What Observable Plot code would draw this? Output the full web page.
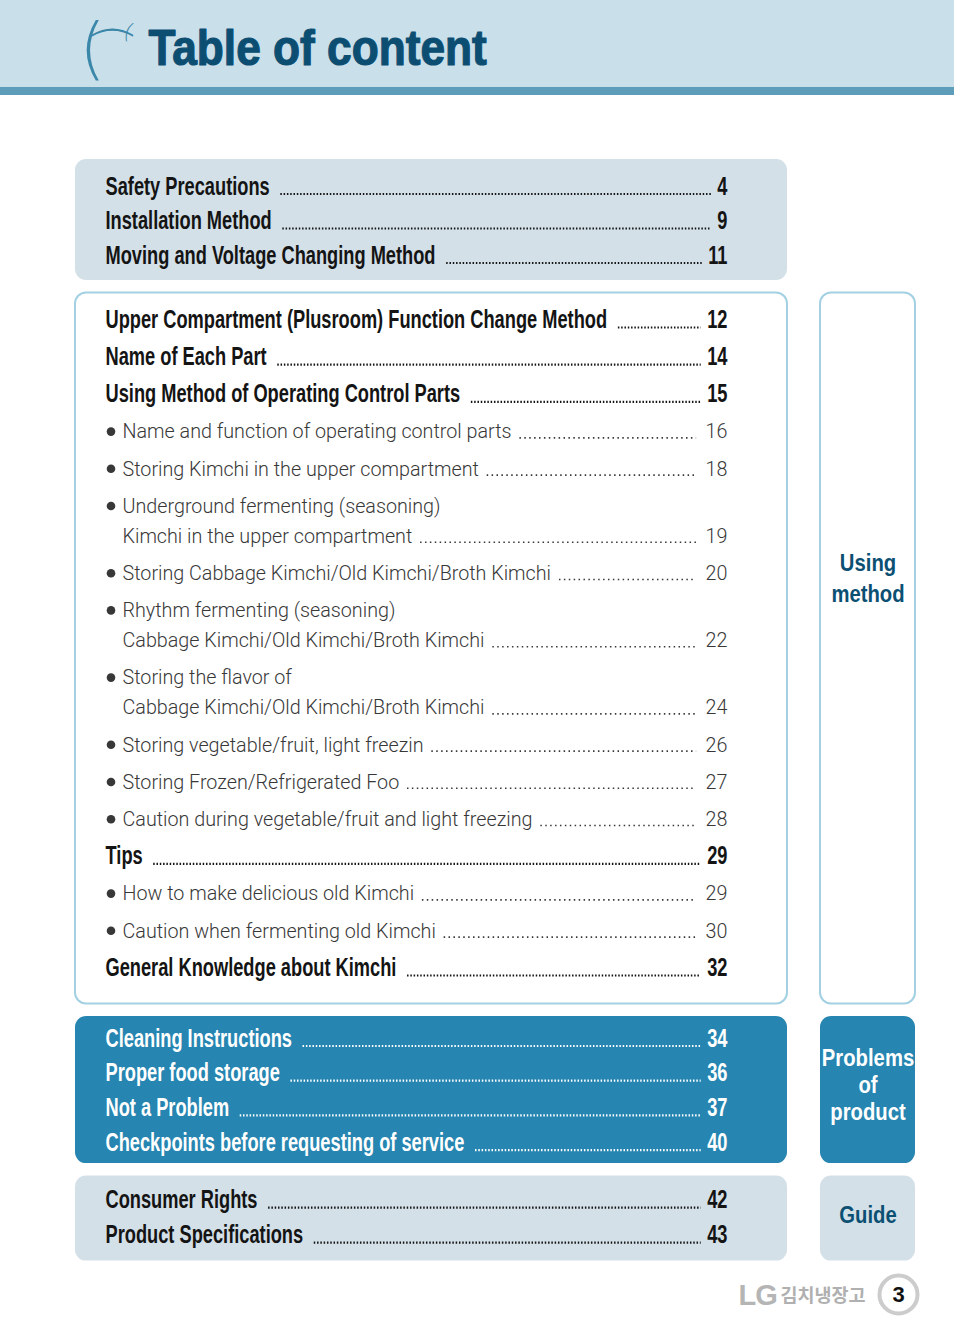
<!DOCTYPE html>
<html>
<head>
<meta charset="utf-8">
<script src="https://cdn.jsdelivr.net/npm/d3@7"></script>
<script src="https://cdn.jsdelivr.net/npm/@observablehq/plot@0.6"></script>
<style>
  html, body { margin: 0; padding: 0; background: #ffffff; }
  g[aria-description="brand"] text { letter-spacing: -1px; }
</style>
</head>
<body>
<div id="chart"></div>
<script>
// ---------------- DATA ----------------
const pageTitle = "Table of content";
const sectionNames = ["Basics", "Using method", "Problems of product", "Guide"];
const sideLabels = [null, ["Using", "method"], ["Problems", "of", "product"], ["Guide"]];

const entryTitles = [
  "Safety Precautions",
  "Installation Method",
  "Moving and Voltage Changing Method",
  "Upper Compartment (Plusroom) Function Change Method",
  "Name of Each Part",
  "Using Method of Operating Control Parts",
  "Name and function of operating control parts",
  "Storing Kimchi in the upper compartment",
  "Underground fermenting (seasoning)\nKimchi in the upper compartment",
  "Storing Cabbage Kimchi/Old Kimchi/Broth Kimchi",
  "Rhythm fermenting (seasoning)\nCabbage Kimchi/Old Kimchi/Broth Kimchi",
  "Storing the flavor of\nCabbage Kimchi/Old Kimchi/Broth Kimchi",
  "Storing vegetable/fruit, light freezin",
  "Storing Frozen/Refrigerated Foo",
  "Caution during vegetable/fruit and light freezing",
  "Tips",
  "How to make delicious old Kimchi",
  "Caution when fermenting old Kimchi",
  "General Knowledge about Kimchi",
  "Cleaning Instructions",
  "Proper food storage",
  "Not a Problem",
  "Checkpoints before requesting of service",
  "Consumer Rights",
  "Product Specifications"
];
const entryPages = [4, 9, 11, 12, 14, 15, 16, 18, 19, 20, 22, 24, 26, 27, 28, 29, 29, 30, 32, 34, 36, 37, 40, 42, 43];
const entryLevels = ["main", "main", "main", "main", "main", "main",
  "sub", "sub", "sub", "sub", "sub", "sub", "sub", "sub", "sub",
  "main", "sub", "sub", "main",
  "main", "main", "main", "main", "main", "main"];
const entrySections = [0, 0, 0, 1, 1, 1, 1, 1, 1, 1, 1, 1, 1, 1, 1, 1, 1, 1, 1, 2, 2, 2, 2, 3, 3];

const brandName = "LG";
const productName = "김치냉장고";
const pageNumber = "3";

// ---------------- LAYOUT & STYLE ----------------
const W = 954, H = 1336;
const L = {
  headerH: 87, stripH: 8,
  boxX1: 75, boxX2: 787, sideX1: 820, sideX2: 915,
  textX: 105, subTextX: 122, bulletX: 110.5, pageX: 727,
  firstTop: 159, gap: 12.5,
  sec: [
    {padTop: 27, pitch: 34.5, wrap: 31, padBottom: 25, labelDy: 0, labelPitch: 0},
    {padTop: 27, pitch: 37.2, wrap: 30, padBottom: 36, labelDy: -70, labelPitch: 31},
    {padTop: 22, pitch: 34.7, wrap: 31, padBottom: 21, labelDy: -5, labelPitch: 27},
    {padTop: 24, pitch: 35, wrap: 31, padBottom: 26, labelDy: -3, labelPitch: 27}
  ]
};
const S = [
  {fill: "#d3e0e8", stroke: "none", ink: "#141414", subInk: "#383838", sideFill: null, sideStroke: "none", sideInk: "#0b5073"},
  {fill: "#ffffff", stroke: "#a3d1e3", ink: "#141414", subInk: "#383838", sideFill: "#ffffff", sideStroke: "#a3d1e3", sideInk: "#0b5073"},
  {fill: "#2685b1", stroke: "none", ink: "#ffffff", subInk: "#ffffff", sideFill: "#2685b1", sideStroke: "none", sideInk: "#ffffff"},
  {fill: "#d3e0e8", stroke: "none", ink: "#141414", subInk: "#383838", sideFill: "#d3e0e8", sideStroke: "none", sideInk: "#0b5073"}
];
// "condense" = horizontal squeeze applied to the glyphs (narrow type look); "squash" = vertical
const F = {
  main: {family: "'Liberation Sans', Arial, sans-serif", weight: "bold", size: 25, condense: 0.73, squash: 1},
  sub: {family: "Roboto, 'Liberation Sans', sans-serif", weight: "300", size: 21, condense: 0.94, squash: 1},
  title: {family: "'Liberation Sans', Arial, sans-serif", weight: "bold", size: 50, condense: 0.885, squash: 1},
  side: {family: "'Liberation Sans', Arial, sans-serif", weight: "bold", size: 26.5, condense: 0.765, squash: 0.9}
};

const ctx = document.createElement("canvas").getContext("2d");
function measure(text, f) {
  ctx.font = `${f.weight} ${f.size}px ${f.family}`;
  return ctx.measureText(text).width * f.condense;
}

// ---------------- BUILD ROWS ----------------
let cursor = L.firstTop;
const boxes = [], sideBoxes = [], lines = [], sideText = [];
sectionNames.forEach((name, s) => {
  const cfg = L.sec[s], st = S[s];
  const top = cursor;
  let y = top + cfg.padTop, last = y;
  entryTitles.forEach((t, i) => {
    if (entrySections[i] !== s) return;
    const parts = t.split("\n");
    parts.forEach((p, j) => {
      if (j > 0) y += cfg.wrap;
      const level = entryLevels[i];
      const f = F[level];
      const x = level === "sub" ? L.subTextX : L.textX;
      const isLast = j === parts.length - 1;
      const row = {section: s, level, text: p, x, y, bullet: level === "sub" && j === 0,
        page: isLast ? String(entryPages[i]) : null,
        color: level === "sub" ? st.subInk : st.ink};
      if (isLast) {
        const tw = measure(p, f);
        const pw = measure(row.page, f);
        row.lx1 = x + tw + (level === "sub" ? 8 : 11);
        row.lx2 = L.pageX - pw - (level === "sub" ? 9 : 6);
        row.ly = y + f.size * 0.3;
      }
      lines.push(row);
    });
    last = y;
    y += cfg.pitch;
  });
  const bottom = last + cfg.padBottom;
  boxes.push({x1: L.boxX1, x2: L.boxX2, y1: top, y2: bottom, fill: st.fill, stroke: st.stroke});
  if (sideLabels[s]) {
    sideBoxes.push({x1: L.sideX1, x2: L.sideX2, y1: top, y2: bottom, fill: st.sideFill, stroke: st.sideStroke});
    const n = sideLabels[s].length;
    const cy = (top + bottom) / 2 + cfg.labelDy;
    sideLabels[s].forEach((t, k) => sideText.push({
      x: (L.sideX1 + L.sideX2) / 2, y: cy + (k - (n - 1) / 2) * cfg.labelPitch, text: t, color: st.sideInk}));
  }
  cursor = bottom + L.gap;
});

const mainRows = lines.filter(d => d.level === "main");
const subRows = lines.filter(d => d.level === "sub");
const leaderRows = lines.filter(d => d.page !== null);

// ---------------- PLOT ----------------
const chart = Plot.plot({
  width: W, height: H,
  margin: 0,
  x: {domain: [0, W], range: [0, W], axis: null},
  y: {domain: [0, H], range: [0, H], axis: null},
  color: {type: "identity"},
  style: {background: "#ffffff"},
  marks: [
    // header band
    Plot.rect([{y1: 0, y2: L.headerH}], {x1: 0, x2: W, y1: "y1", y2: "y2", fill: "#c9dfe9"}),
    Plot.rect([{y1: L.headerH, y2: L.stripH + L.headerH}], {x1: 0, x2: W, y1: "y1", y2: "y2", fill: "#5e9db9"}),
    // logo swoosh
    Plot.text(["("], {x: 92, y: 50, text: d => d, fontSize: 68, fontWeight: 300, fontFamily: "DejaVu Sans", fill: "#3a87aa"}),
    Plot.text(["("], {x: 112, y: 32, text: d => d, rotate: 90, fontSize: 46, fontWeight: 300, fontFamily: "DejaVu Sans", fill: "#3a87aa"}),
    Plot.text(["("], {x: 128, y: 31, text: d => d, rotate: 20, fontSize: 22, fontWeight: 300, fontFamily: "DejaVu Sans", fill: "#3a87aa"}),
    Plot.text([pageTitle], {x: 148, y: 48, text: d => d, textAnchor: "start", lineAnchor: "middle",
      fontSize: F.title.size, fontWeight: F.title.weight, fontFamily: F.title.family, fill: "#0c4e72",
      stroke: "#0c4e72", strokeWidth: 1.2, ariaDescription: "title"}),
    // boxes
    Plot.rect(boxes, {x1: "x1", x2: "x2", y1: "y1", y2: "y2", fill: "fill", stroke: "stroke", strokeWidth: 2, rx: 11}),
    Plot.rect(sideBoxes, {x1: "x1", x2: "x2", y1: "y1", y2: "y2", fill: "fill", stroke: "stroke", strokeWidth: 2, rx: 11}),
    // side labels
    Plot.text(sideText, {x: "x", y: "y", text: "text", fill: "color", fontSize: F.side.size, fontWeight: F.side.weight,
      fontFamily: F.side.family, lineAnchor: "middle", ariaDescription: "side"}),
    // dot leaders
    Plot.ruleY(leaderRows.filter(d => d.level === "main"), {y: "ly", x1: "lx1", x2: "lx2", stroke: "color",
      strokeWidth: 2.2, strokeDasharray: "1.5 1.8"}),
    Plot.ruleY(leaderRows.filter(d => d.level === "sub"), {y: "ly", x1: "lx1", x2: "lx2", stroke: "color",
      strokeWidth: 1.6, strokeDasharray: "1.5 3.4"}),
    // bullets
    Plot.dot(subRows.filter(d => d.bullet), {x: L.bulletX, y: "y", r: 4.3, fill: "color", stroke: null}),
    // entry texts
    Plot.text(mainRows, {x: "x", y: "y", text: "text", fill: "color", textAnchor: "start", lineAnchor: "middle",
      fontSize: F.main.size, fontWeight: F.main.weight, fontFamily: F.main.family, ariaDescription: "main"}),
    Plot.text(subRows, {x: "x", y: "y", text: "text", fill: "color", textAnchor: "start", lineAnchor: "middle",
      fontSize: F.sub.size, fontWeight: F.sub.weight, fontFamily: F.sub.family, ariaDescription: "sub"}),
    // page numbers
    Plot.text(mainRows.filter(d => d.page), {x: L.pageX, y: "y", text: "page", fill: "color", textAnchor: "end",
      lineAnchor: "middle", fontSize: F.main.size, fontWeight: F.main.weight, fontFamily: F.main.family, ariaDescription: "main"}),
    Plot.text(subRows.filter(d => d.page), {x: L.pageX, y: "y", text: "page", fill: "color", textAnchor: "end",
      lineAnchor: "middle", fontSize: F.sub.size, fontWeight: F.sub.weight, fontFamily: F.sub.family, ariaDescription: "sub"}),
    // footer
    Plot.text([brandName], {x: 738, y: 1295, text: d => d, textAnchor: "start", lineAnchor: "middle", fontSize: 29,
      fontWeight: "bold", fontFamily: "'Liberation Sans', sans-serif", fill: "#b5b5b5", ariaDescription: "brand"}),
    Plot.text([productName], {x: 780, y: 1296, text: d => d, textAnchor: "start", lineAnchor: "middle", fontSize: 18.5,
      fontWeight: "bold", fontFamily: "'Noto Sans CJK KR', sans-serif", fill: "#b0b0b0"}),
    Plot.dot([pageNumber], {x: 898, y: 1294, r: 19, fill: "#ffffff", stroke: "#cccccc", strokeWidth: 4}),
    Plot.text([pageNumber], {x: 898, y: 1294, text: d => d, lineAnchor: "middle", fontSize: 22, fontWeight: "bold",
      fontFamily: "'Liberation Sans', sans-serif", fill: "#111111"})
  ]
});
document.getElementById("chart").appendChild(chart);

// narrow-type look: squeeze glyphs about each text's anchor
for (const key of Object.keys(F)) {
  chart.querySelectorAll(`g[aria-description="${key}"] text`).forEach(el => {
    const tr = el.getAttribute("transform");
    if (tr) el.setAttribute("transform", `${tr} scale(${F[key].condense},${F[key].squash})`);
  });
}
</script>
</body>
</html>
